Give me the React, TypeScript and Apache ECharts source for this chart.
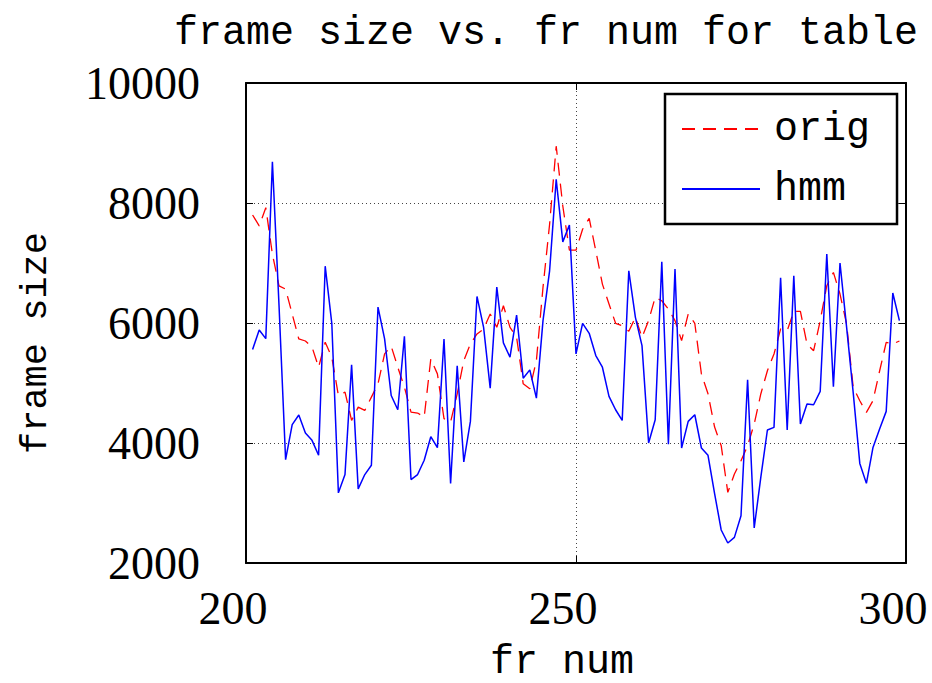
import React, { useEffect, useRef } from "react";
import * as echarts from "echarts";

// First frame number of the plotted window; one sample per frame.
const FIRST_FRAME = 201;

const xTicks = [200, 250, 300];
const yTicks = [2000, 4000, 6000, 8000, 10000];

// Original frame sizes (red dashed).
const origSizes = [
  7800, 7618, 7922, 7147, 6620, 6565, 6150, 5734, 5700, 5600,
  5263, 5679, 5430, 4792, 4848, 4377, 4598, 4543, 4765, 4986,
  5485, 5612, 5263, 4931, 4515, 4499, 4432, 5402, 5152, 4405,
  4349, 4820, 5374, 5651, 5817, 5900, 6150, 5928, 6288, 5928,
  5762, 4986, 4903, 5374, 6593, 7645, 8947, 7950, 7213, 7213,
  7562, 7745, 7202, 6648, 6316, 5995, 5956, 5862, 6094, 5762,
  6039, 6427, 6371, 6233, 6039, 5706, 6150, 5995, 5152, 4820,
  4266, 3955, 3177, 3483, 3705, 3955, 4317, 4817, 5205, 5483,
  5900, 5872, 6193, 6193, 5650, 5538, 6038, 6622, 6843, 6483,
  5983, 4927, 4705, 4510, 4705, 5200, 5677, 5650, 5700,
];

// HMM-generated frame sizes (blue solid).
const hmmSizes = [
  5557, 5884, 5740, 8687, 6300, 3723, 4305, 4466, 4166, 4044,
  3795, 6947, 5995, 3169, 3474, 5302, 3236, 3474, 3629, 6266,
  5734, 4792, 4554, 5778, 3391, 3474, 3712, 4105, 3923, 5734,
  3324, 5285, 3684, 4360, 6443, 5928, 4914, 6598, 5668, 5430,
  6133, 5080, 5219, 4748, 6039, 6870, 8393, 7352, 7634, 5485,
  5995, 5828, 5457, 5263, 4776, 4554, 4377, 6870, 6094, 5623,
  4000, 4388, 7019, 3978, 6898, 3917, 4360, 4471, 3917, 3795,
  3158, 2550, 2333, 2427, 2788, 5055, 2583, 3427, 4217, 4260,
  6755, 4217, 6788, 4317, 4650, 4638, 4860, 7150, 4938, 7000,
  5930, 4840, 3660, 3327, 3927, 4233, 4527, 6500, 6040,
];

const MONO = "'Liberation Mono', 'DejaVu Sans Mono', monospace";
const SERIF = "'Liberation Serif', 'DejaVu Serif', serif";

const toPairs = (vals: number[]) => vals.map((v, i) => [FIRST_FRAME + i, v]);

export default function App() {
  const ref = useRef<HTMLDivElement>(null);

  useEffect(() => {
    if (!ref.current) return;
    const chart = echarts.init(ref.current, null, { renderer: "svg" });

    const gridDots = { color: "#444", width: 1, type: [1, 3] as number[] };
    const frameLine = { show: true, lineStyle: { color: "#000", width: 2 } };
    const inTick = { show: true, inside: true, length: 7, lineStyle: { color: "#000", width: 1 } };

    chart.setOption({
      animation: false,
      backgroundColor: "#fff",
      title: {
        text: "frame size vs. fr num for table",
        left: 169,
        top: 8,
        textStyle: { fontFamily: MONO, fontSize: 40, fontWeight: "normal", color: "#000" },
      },
      legend: {
        orient: "vertical",
        left: 665,
        top: 94,
        padding: [15, 27, 15, 16],
        itemGap: 20,
        itemWidth: 78,
        itemHeight: 40,
        borderColor: "#000",
        borderWidth: 2.5,
        backgroundColor: "#fff",
        itemStyle: { opacity: 0 },
        textStyle: { fontFamily: MONO, fontSize: 40, color: "#000", padding: [0, 0, 0, 9] },
        data: [{ name: "orig" }, { name: "hmm" }],
      },
      grid: {
        left: 246,
        right: 26,
        top: 83,
        bottom: 120,
        containLabel: false,
        outerBoundsMode: "none",
      },
      xAxis: [
        {
          type: "value",
          min: xTicks[0],
          max: xTicks[xTicks.length - 1],
          interval: 50,
          position: "bottom",
          name: "fr num",
          nameLocation: "middle",
          nameGap: 79,
          nameTextStyle: {
            fontFamily: MONO,
            fontSize: 40,
            lineHeight: 40,
            color: "#000",
            padding: [0, 28, 0, 0],
          },
          axisLine: frameLine,
          axisTick: inTick,
          axisLabel: {
            fontFamily: SERIF,
            fontSize: 46,
            color: "#000",
            margin: 22,
            padding: [0, 26, 0, 0],
            formatter: (v: number) => (xTicks.includes(v) ? String(v) : ""),
          },
          splitLine: { show: true, lineStyle: gridDots },
        },
        {
          type: "value",
          min: xTicks[0],
          max: xTicks[xTicks.length - 1],
          interval: 50,
          position: "top",
          axisLine: frameLine,
          axisTick: inTick,
          axisLabel: { show: false },
          splitLine: { show: false },
        },
      ],
      yAxis: [
        {
          type: "value",
          min: yTicks[0],
          max: yTicks[yTicks.length - 1],
          interval: 2000,
          position: "left",
          name: "frame size",
          nameLocation: "middle",
          nameGap: 192,
          nameRotate: 90,
          nameTextStyle: { fontFamily: MONO, fontSize: 37, color: "#000", padding: [0, 40, 0, 0] },
          axisLine: frameLine,
          axisTick: inTick,
          axisLabel: {
            fontFamily: SERIF,
            fontSize: 46,
            color: "#000",
            margin: 46,
            padding: [8, 0, 0, 0],
            formatter: (v: number) => String(v),
          },
          splitLine: { show: true, lineStyle: gridDots },
        },
        {
          type: "value",
          min: yTicks[0],
          max: yTicks[yTicks.length - 1],
          interval: 2000,
          position: "right",
          axisLine: frameLine,
          axisTick: inTick,
          axisLabel: { show: false },
          splitLine: { show: false },
        },
      ],
      series: [
        {
          name: "orig",
          type: "line",
          data: toPairs(origSizes),
          symbol: "none",
          clip: true,
          lineStyle: { color: "#ff0000", width: 1.3, type: [13, 8] },
          itemStyle: { color: "#ff0000" },
        },
        {
          name: "hmm",
          type: "line",
          data: toPairs(hmmSizes),
          symbol: "none",
          clip: true,
          lineStyle: { color: "#0000ff", width: 1.5 },
          itemStyle: { color: "#0000ff" },
        },
      ],
    });

    return () => chart.dispose();
  }, []);

  return (
    <div
      ref={ref}
      style={{ width: 932, height: 683, position: "fixed", left: 0, top: 0, overflow: "hidden" }}
    />
  );
}
